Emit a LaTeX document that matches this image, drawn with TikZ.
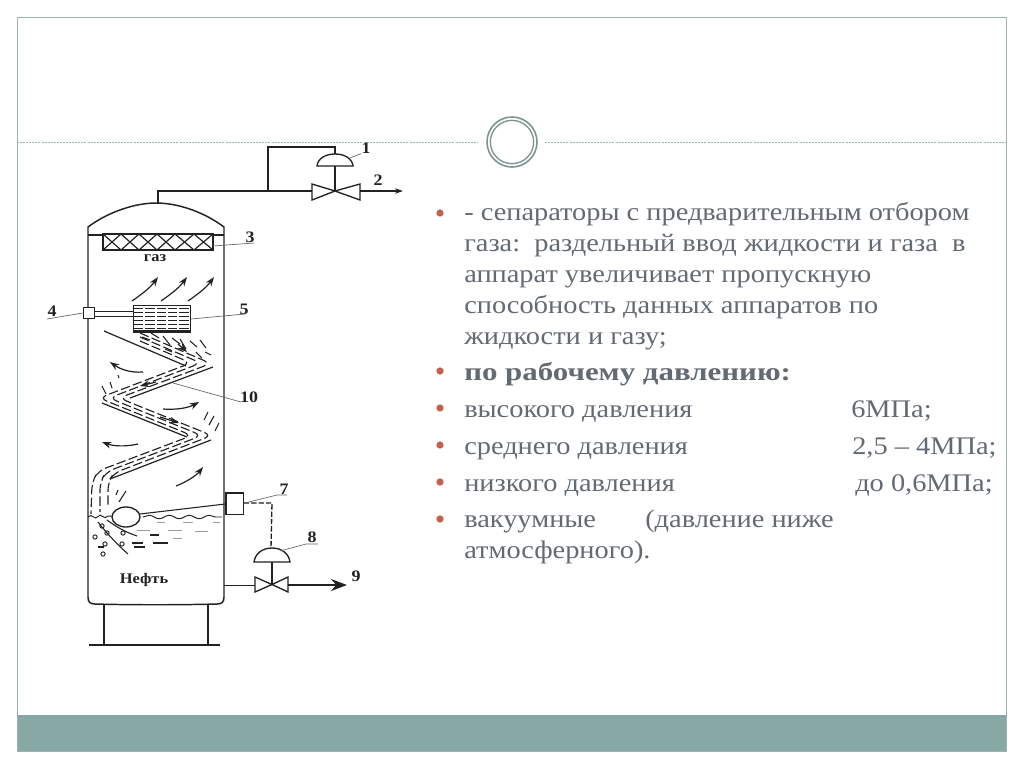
\documentclass[tikz,border=0pt]{standalone}
\usepackage{fontspec}
\setmainfont[FakeStretch=1.12]{Liberation Serif}
\newfontfamily\boldwide[FakeStretch=1.22]{Liberation Serif}
\usetikzlibrary{arrows.meta,decorations.pathmorphing,shapes.geometric}
\definecolor{txt}{HTML}{646A72}
\definecolor{band}{HTML}{87A9A5}
\definecolor{frm}{HTML}{9DB3B0}
\definecolor{ring}{HTML}{7F9491}
\definecolor{bul}{HTML}{C4624F}
\definecolor{ink}{HTML}{222222}
\tikzset{
 x=0.75pt,y=-0.75pt,
 pipe/.style={draw=ink,line width=1.1pt},
 thin line/.style={draw=ink!70,line width=0.5pt},
 baffle/.style={draw=ink,line width=0.9pt},
 flow/.style={draw=ink,line width=0.85pt,dash pattern=on 7pt off 2.5pt,rounded corners=6pt},
 spray/.style={draw=ink,line width=0.8pt},
 curvearrow/.style={draw=ink,line width=0.9pt,-{Stealth[length=7pt,width=5pt]}},
 num/.style={font=\fontsize{12}{13}\selectfont\bfseries,text=ink,inner sep=0pt},
 word/.style={font=\fontsize{11}{13}\selectfont\bfseries,text=ink,inner sep=0pt},
 body/.style={font=\fontsize{19}{21}\selectfont,text=txt,anchor=base west,inner sep=0pt},
 dot/.style={circle,fill=bul,inner sep=0pt,minimum size=5.5pt},
 bubble/.style={circle,draw=ink,line width=0.7pt,inner sep=0pt,minimum size=3.2pt},
 actuator/.style={draw=ink,line width=1pt,fill=white},
 valvetri/.style={draw=ink,line width=1pt,fill=white},
}
\begin{document}
\begin{tikzpicture}
\useasboundingbox (0,0) rectangle (1024,768);
\fill[white] (0,0) rectangle (1024,768);
% frame
\fill[band] (17,715) rectangle (1006,751);
\draw[frm,line width=0.7pt] (17,17) rectangle (1006,751);
\draw[frm,line width=0.7pt,dash pattern=on 1.5pt off 0.8pt] (17,142) -- (478,142);
\draw[frm,line width=0.7pt,dash pattern=on 1.5pt off 0.8pt] (545,142) -- (1006,142);
\node[circle,draw=ring,line width=1.2pt,fill=white,minimum size=37.5pt,inner sep=0pt] (ringo) at (512,142) {};
\node[circle,draw=ring,line width=1pt,minimum size=32.5pt,inner sep=0pt] (ringi) at (512,142) {};

% vessel
\draw[draw=ink,line width=1.1pt] (88,292) -- (88,227) .. controls (108,212) and (135,203) .. (156,203) .. controls (178,203) and (204,212) .. (224,227) -- (224,597) .. controls (224,602) and (222,604) .. (217,604) .. controls (180,605) and (130,605) .. (95,604) .. controls (90,604) and (88,602) .. (88,597) -- cycle;
\draw[pipe,line width=0.9pt] (88,235) -- (224,235);
% legs
\draw[pipe] (104,604) -- (104,645) (208,604) -- (208,645);
\draw[draw=ink,line width=0.8pt] (89,645) -- (220,645);

% demister 3
\node[draw=ink,line width=1pt,fill=white,minimum width=82.5pt,minimum height=12pt,inner sep=0pt] (mesh) at (158,242) {};
\draw[draw=ink,line width=0.9pt]
 (103,234) -- (121,250) (121,234) -- (103,250)
 (121,234) -- (139,250) (139,234) -- (121,250)
 (139,234) -- (157,250) (157,234) -- (139,250)
 (157,234) -- (175,250) (175,234) -- (157,250)
 (175,234) -- (194,250) (194,234) -- (175,250)
 (194,234) -- (213,250) (213,234) -- (194,250);

% pipe top and valve 1
\coordinate (topnozzle) at (158,203);
\coordinate (tee) at (268,191);
\coordinate (v1) at (335,191);
\draw[pipe] (topnozzle) -- (158,191) -- (tee) -- (312,191);
\draw[pipe] (tee) -- (268,147) -- (335,147) -- (335,154);
\draw[pipe] (335,166) -- (v1);
\draw[actuator] (317,166) .. controls (318,158) and (326,154) .. (335,154) .. controls (344,154) and (352,158) .. (353,166) -- cycle;
\draw[valvetri] (312,184) -- (v1) -- (312,200) -- cycle;
\draw[valvetri] (360,184) -- (v1) -- (360,200) -- cycle;
\coordinate (out2) at (403,191);
\draw[pipe,-{Stealth[length=6pt,width=4pt]}] (360,191) -- (out2);

% cooler 5 and box 4
\node[draw=ink,line width=1pt,minimum width=8.5pt,minimum height=8.5pt,inner sep=0pt,fill=white] (b4) at (89,313) {};
\node[draw=ink,line width=1pt,minimum width=42.5pt,minimum height=20pt,inner sep=0pt] (b5) at (162,318.5) {};
\draw[draw=ink,line width=0.7pt] (b4.east |- 0,311) -- (b5.west |- 0,311) (b4.east |- 0,316) -- (b5.west |- 0,316);
\foreach \yy in {308,312,316,320,324,328}
 \draw[draw=ink,line width=0.6pt,dash pattern=on 7pt off 1.5pt] (134,\yy) -- (190,\yy);
\draw[draw=ink,line width=1.3pt] (133,331) -- (190,331);

% baffles
\coordinate (bf1a) at (104,331); \coordinate (bf1b) at (186,366);
\coordinate (bf2a) at (213,367); \coordinate (bf2b) at (130,398);
\coordinate (bf3a) at (102,403); \coordinate (bf3b) at (187,437);
\coordinate (bf4a) at (211,440); \coordinate (bf4b) at (110,479);
\draw[baffle] (bf1a) -- (bf1b);
\draw[baffle] (bf2a) -- (bf2b);
\draw[baffle] (bf3a) -- (bf3b);
\draw[baffle] (bf4a) -- (bf4b);

% flow
\draw[flow] (140,333) -- (211,363.5) -- (119,398) -- (212,435.5) -- (114,473) -- (108,482) -- (108,505);
\draw[flow] (140,337) -- (201,363) -- (109,398) -- (202,435.5) -- (106,472) -- (100,482) -- (100,512);
\draw[flow] (140,341) -- (191,363) -- (99,398) -- (192,435.5) -- (98,471) -- (92,482) -- (91,514);
% spray top
\foreach \a/\b/\c/\d in {142/337/150/340, 151/333/159/338, 163/336/170/345, 172/338/180/344, 180/339/186/349, 190/341/197/347, 200/340/206/348, 165/349/172/352, 205/352/211/355, 196/352/202/358}
 \draw[spray] (\a,\b) -- (\c,\d);
\foreach \a/\b/\c/\d in {102/386/106/394, 110/382/112/388, 118/375/119/378, 208/412/204/420, 214/416/209/425, 219/423/215/431, 118/490/116/495, 126/491/119/502}
 \draw[spray] (\a,\b) -- (\c,\d);

% curved arrows
\draw[curvearrow] (132,301) .. controls (142,294) and (150,288) .. (158,277);
\draw[curvearrow] (161,301) .. controls (171,294) and (179,288) .. (187,277);
\draw[curvearrow] (188,301) .. controls (198,294) and (206,288) .. (214,277);
\draw[curvearrow] (143,372) .. controls (130,373) and (120,369) .. (110,362);
\draw[curvearrow] (163,409) .. controls (176,410) and (188,408) .. (199,402);
\draw[curvearrow] (138,444) .. controls (125,447) and (113,446) .. (102,442);
\draw[curvearrow] (176,486) .. controls (186,482) and (196,476) .. (203,467);
\draw[curvearrow] (178,344) -- (187,352);
\draw[curvearrow] (156,382) -- (140,386);
\draw[curvearrow] (160,417) -- (179,423);

% inlet 6 and level
\node[ellipse,draw=ink,line width=1pt,minimum width=21pt,minimum height=15pt,inner sep=0pt,fill=white] (inlet) at (126,517) {};
\node[draw=ink,line width=1pt,minimum width=13pt,minimum height=16pt,inner sep=0pt,fill=white] (n7) at (234.5,503.5) {};
\draw[draw=ink,line width=0.8pt] (140,514) -- (n7.west |- 0,504);
\draw[draw=ink,line width=0.7pt,decorate,decoration={snake,amplitude=1.3pt,segment length=15pt}] (143,517) -- (222,517);
\draw[draw=ink,line width=0.7pt,decorate,decoration={snake,amplitude=1pt,segment length=7pt}] (88,517) -- (112,516);
\foreach \a/\b/\c/\d in {157/522/165/522, 183/522/193/522, 213/522/220/522, 137/530/150/530, 168/530/182/530, 195/531/208/531, 173/538/182/538}
 \draw[draw=ink!45,line width=0.5pt] (\a,\b) -- (\c,\d);
\foreach \a/\b/\c/\d in {150/535/159/535, 132/543/143/543, 153/543/168/543, 134/547/145/547, 98/547/104/547}
 \draw[draw=ink,line width=0.8pt] (\a,\b) -- (\c,\d);
\draw[spray] (98,522) .. controls (108,535) and (118,545) .. (128,554);
\draw[spray] (107,520) .. controls (115,526) and (125,532) .. (137,536);
\foreach \xx/\yy [count=\i] in {95/537, 102/526, 107/533, 123/533, 105/544, 122/544, 103/554}
 \node[bubble] (bub\i) at (\xx,\yy) {};

% bottom valve 8
\coordinate (v8) at (272,584.5);
\coordinate (wall) at (224,585);
\draw[pipe,line width=0.7pt] (wall) -- (255,585);
\coordinate (act8) at (271,548);
\draw[draw=ink,line width=1pt,dash pattern=on 4pt off 1.5pt] (n7.east |- 0,503) -- (272,503) -- (act8);
\draw[pipe] (272,562) -- (v8);
\draw[actuator] (254,562) .. controls (255,554) and (262,548) .. (272,548) .. controls (282,548) and (289,554) .. (290,562) -- cycle;
\draw[valvetri] (255,577) -- (v8) -- (255,592) -- cycle;
\draw[valvetri] (288,577) -- (v8) -- (288,592) -- cycle;
\coordinate (out9) at (347,585);
\draw[pipe,-{Stealth[length=12pt,width=9pt]}] (288,585) -- (out9);

% labels
\node[num] (l1) at (366,148) {1};
\node[num] (l2) at (378,180) {2};
\node[num] (l3) at (250,237) {3};
\node[num] (l4) at (52,311) {4};
\node[num] (l5) at (244,309) {5};
\node[num] (l7) at (284,489) {7};
\node[num] (l8) at (312,537) {8};
\node[num] (l9) at (356,576) {9};
\node[num] (l10) at (249,397) {10};
\node[word] (lgas) at (155,258) {газ};
\node[word] (loil) at (144,580) {Нефть};
\draw[thin line] (350,158) -- (l1.south west);
\draw[thin line] (213,246) -- (254,243);
\draw[thin line] (47,319) -- (b4.west);
\draw[thin line] (b5.east |- 0,319) -- (245,314);
\draw[thin line] (173,383) -- (241,402);
\draw[thin line] (245,503) -- (277,495) -- (287,495);
\draw[thin line] (280,551) -- (306,544) -- (318,544);

% text
\node[dot] (d1) at (440,213) {};
\node[dot] (d2) at (440,371) {};
\node[dot] (d3) at (440,408) {};
\node[dot] (d4) at (440,445) {};
\node[dot] (d5) at (440,482) {};
\node[dot] (d6) at (440,519) {};
\node[body] (t1) at (464,220) {- сепараторы с предварительным отбором};
\node[body] (t2) at (464,251) {газа:\ \ раздельный ввод жидкости и газа\ \ в};
\node[body] (t3) at (464,282) {аппарат увеличивает пропускную};
\node[body] (t4) at (464,313) {способность данных аппаратов по};
\node[body] (t5) at (464,344) {жидкости и газу;};
\node[body,font=\fontsize{19}{21}\selectfont\boldwide\bfseries] (t6) at (464,380) {по рабочему давлению:};
\node[body] (t7) at (464,417) {высокого давления};
\node[body] (t7b) at (851,417) {6МПа;};
\node[body] (t8) at (464,454) {среднего давления};
\node[body] (t8b) at (852,454) {2,5 – 4МПа;};
\node[body] (t9) at (464,491) {низкого давления};
\node[body] (t9b) at (855,491) {до 0,6МПа;};
\node[body] (t10) at (464,527) {вакуумные};
\node[body] (t10b) at (645,527) {(давление ниже};
\node[body] (t11) at (464,558) {атмосферного).};
\end{tikzpicture}
\end{document}
